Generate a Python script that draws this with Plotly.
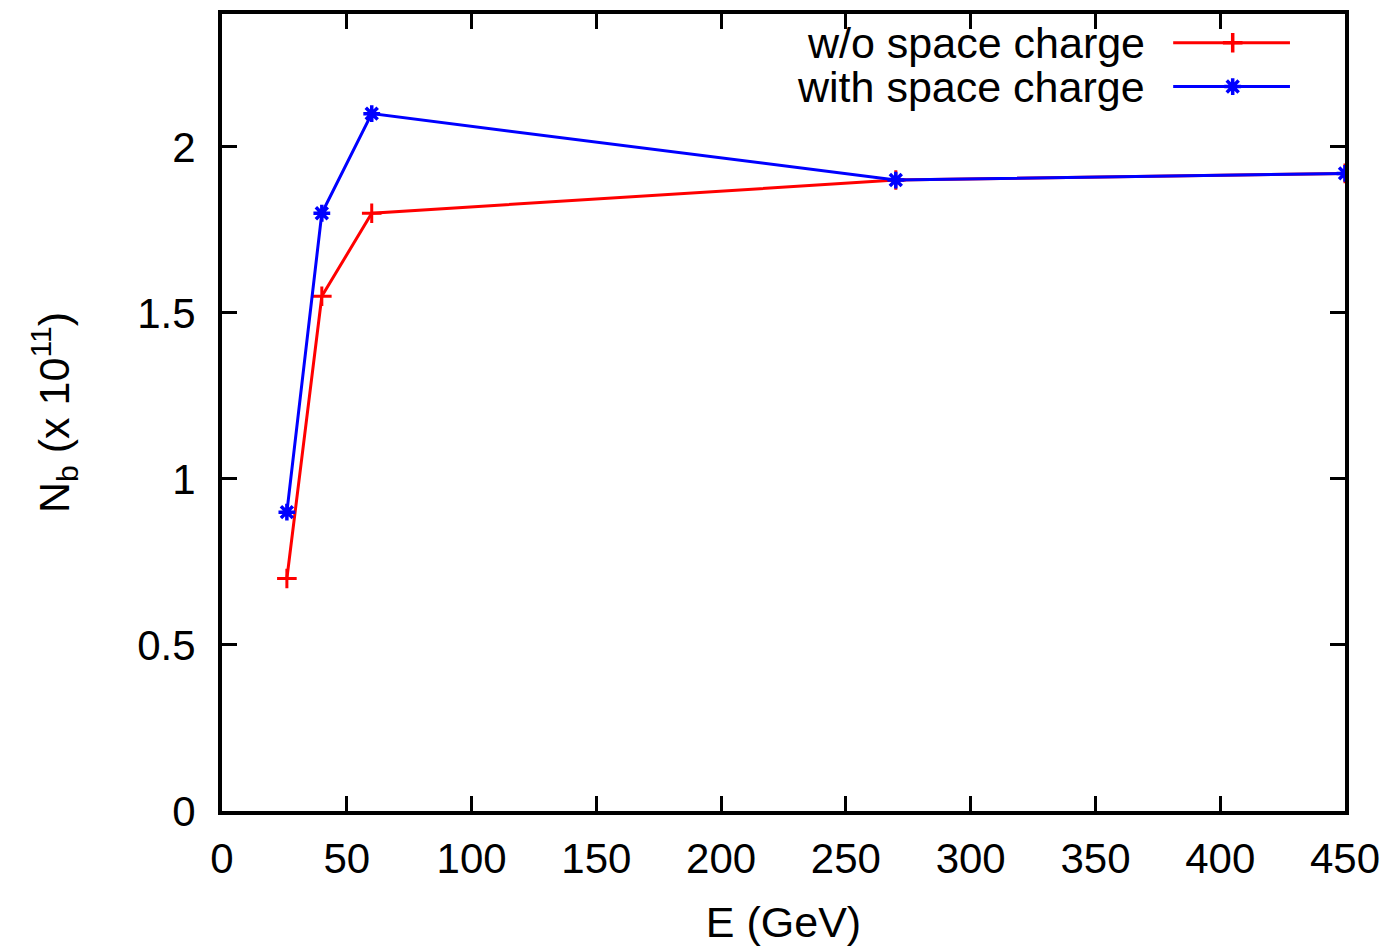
import plotly.graph_objects as go

energy = [26, 40, 60, 270, 450]
nb_without_sc = [0.7, 1.55, 1.8, 1.9, 1.92]
nb_with_sc = [0.9, 1.8, 2.1, 1.9, 1.92]
series_names = ["w/o space charge", "with space charge"]
x_ticks = [0, 50, 100, 150, 200, 250, 300, 350, 400, 450]
y_ticks = [0, 0.5, 1, 1.5, 2]

RED = "#ff0000"
BLUE = "#0000ff"
FONT = "Liberation Sans, Arial, sans-serif"

fig = go.Figure()
fig.add_trace(go.Scatter(
    x=energy, y=nb_without_sc, mode="lines+markers", name=series_names[0],
    line=dict(color=RED, width=3),
    marker=dict(symbol="cross-thin", size=14, color=RED, line=dict(color=RED, width=3)),
    showlegend=False))
fig.add_trace(go.Scatter(
    x=energy, y=nb_with_sc, mode="lines+markers", name=series_names[1],
    line=dict(color=BLUE, width=3),
    marker=dict(symbol="asterisk-open", size=14, color=BLUE, line=dict(color=BLUE, width=3.5)),
    showlegend=False))

# gnuplot-style legend (text left, sample right) on a hidden overlay axis
leg_y = [0.964, 0.909]
leg_colors = [RED, BLUE]
leg_symbols = ["cross-thin", "asterisk-open"]
for i in range(2):
    fig.add_trace(go.Scatter(
        x=[0.847, 0.951], y=[leg_y[i], leg_y[i]], mode="lines",
        line=dict(color=leg_colors[i], width=3), xaxis="x2", yaxis="y2",
        showlegend=False, hoverinfo="skip"))
    fig.add_trace(go.Scatter(
        x=[0.900], y=[leg_y[i]], mode="markers",
        marker=dict(symbol=leg_symbols[i], size=14, color=leg_colors[i],
                    line=dict(color=leg_colors[i], width=3.5)),
        xaxis="x2", yaxis="y2", showlegend=False, hoverinfo="skip"))
    fig.add_annotation(x=0.824, y=leg_y[i], xref="x2", yref="y2",
                       text=series_names[i], showarrow=False,
                       xanchor="right", yanchor="middle",
                       font=dict(size=43, color="black", family=FONT))

axis_common = dict(
    showline=True, linecolor="black", linewidth=4, mirror="ticks",
    ticks="inside", ticklen=15, tickwidth=3, tickcolor="black",
    showgrid=False, zeroline=False,
    tickfont=dict(size=42, color="black", family=FONT),
)

fig.update_layout(
    width=1391, height=949,
    margin=dict(l=222, r=46, t=10, b=134),
    plot_bgcolor="white", paper_bgcolor="white",
    font=dict(family=FONT, color="black"),
    xaxis=dict(range=[0, 450], tickvals=x_ticks, ticklabelstandoff=8,
               title=dict(text="E (GeV)", font=dict(size=43), standoff=26),
               **axis_common),
    yaxis=dict(range=[0, 2.4], tickvals=y_ticks, ticklabelstandoff=14,
               title=dict(text="N<sub>b</sub> (x 10<sup>11</sup>)",
                          font=dict(size=43), standoff=55),
               **axis_common),
    xaxis2=dict(range=[0, 1], overlaying="x", visible=False, fixedrange=True),
    yaxis2=dict(range=[0, 1], overlaying="y", visible=False, fixedrange=True),
)

fig.write_html("out.html")
